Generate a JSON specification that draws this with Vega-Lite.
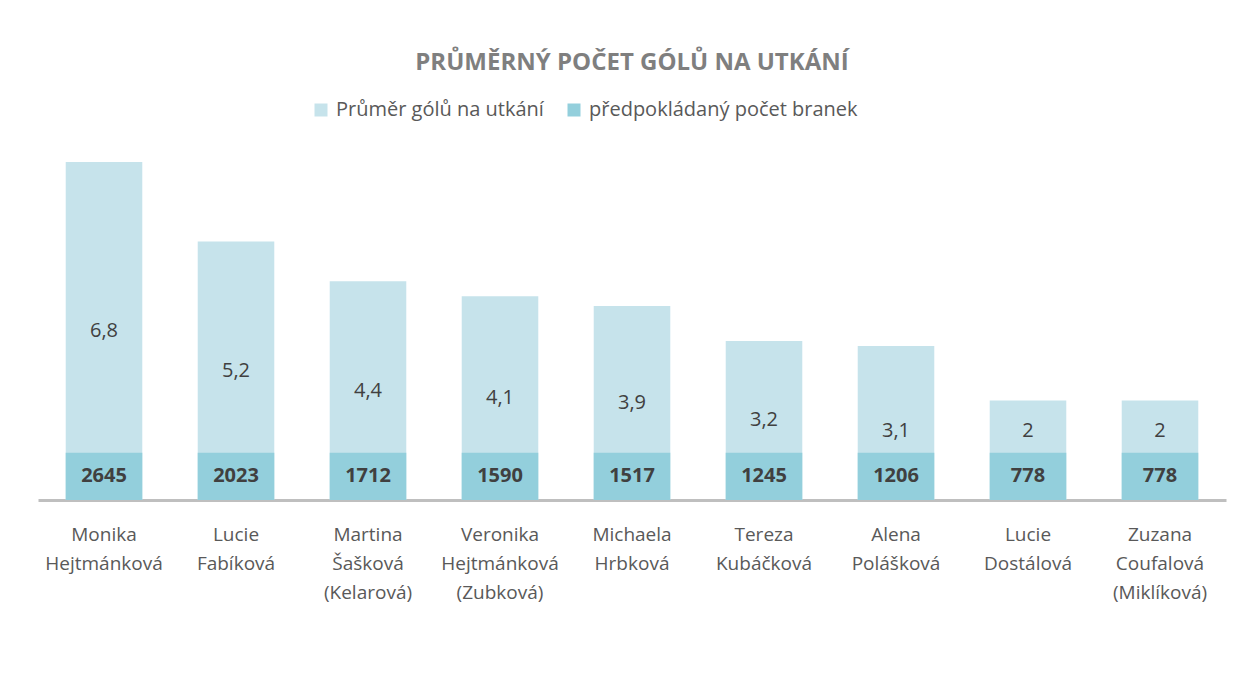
{
  "$schema": "https://vega.github.io/schema/vega-lite/v6.json",
  "width": 1188,
  "height": 348,
  "autosize": {"type": "none"},
  "padding": {"left": 38, "top": 152, "right": 18, "bottom": 175},
  "background": "white",
  "config": {
    "locale": {"number": {"decimal": ",", "thousands": " ", "grouping": [3], "currency": ["", " Kč"]}},
    "view": {"stroke": null},
    "font": "Open Sans"
  },
  "title": {
    "text": "PRŮMĚRNÝ POČET GÓLŮ NA UTKÁNÍ",
    "fontSize": 24,
    "fontWeight": "bold",
    "color": "#7f7f7f",
    "anchor": "middle",
    "offset": 25
  },
  "data": {
    "values": [
      {"name": "Monika Hejtmánková", "avg": 6.8, "goals": 2645},
      {"name": "Lucie Fabíková", "avg": 5.2, "goals": 2023},
      {"name": "Martina Šašková (Kelarová)", "avg": 4.4, "goals": 1712},
      {"name": "Veronika Hejtmánková (Zubková)", "avg": 4.1, "goals": 1590},
      {"name": "Michaela Hrbková", "avg": 3.9, "goals": 1517},
      {"name": "Tereza Kubáčková", "avg": 3.2, "goals": 1245},
      {"name": "Alena Polášková", "avg": 3.1, "goals": 1206},
      {"name": "Lucie Dostálová", "avg": 2, "goals": 778},
      {"name": "Zuzana Coufalová (Miklíková)", "avg": 2, "goals": 778}
    ]
  },
  "encoding": {
    "x": {
      "field": "name",
      "type": "nominal",
      "sort": null,
      "scale": {"paddingInner": 0.42, "paddingOuter": 0.21},
      "axis": {
        "title": null,
        "labelAngle": 0,
        "labelExpr": "split(datum.value, ' ')",
        "labelFontSize": 19,
        "labelColor": "#595959",
        "labelLineHeight": 29,
        "labelPadding": 25,
        "labelBaseline": "top",
        "domainColor": "#bfbfbf",
        "domainWidth": 3,
        "ticks": false,
        "grid": false
      }
    }
  },
  "layer": [
    {
      "mark": {"type": "bar"},
      "encoding": {
        "y": {"field": "avg", "type": "quantitative", "scale": {"domain": [0, 7], "nice": false}, "axis": null},
        "color": {
          "datum": "Průměr gólů na utkání",
          "scale": {"domain": ["Průměr gólů na utkání", "předpokládaný počet branek"], "range": ["#c6e3eb", "#93cfdc"]},
          "legend": {
            "title": null,
            "orient": "none",
            "legendX": 273,
            "legendY": -52,
            "direction": "horizontal",
            "symbolType": "square",
            "symbolSize": 169,
            "symbolStrokeWidth": 0,
            "labelFontSize": 20,
            "labelLimit": 0,
            "labelColor": "#595959",
            "labelOffset": 5,
            "columnPadding": 20
          }
        }
      }
    },
    {
      "mark": {"type": "bar"},
      "encoding": {
        "y": {"datum": 0.95, "type": "quantitative"},
        "color": {"datum": "předpokládaný počet branek"}
      }
    },
    {
      "transform": [{"filter": "datum.avg > 3.15"}],
      "mark": {"type": "text", "fontSize": 20, "color": "#404040"},
      "encoding": {
        "y": {"field": "avg", "type": "quantitative", "stack": "zero", "bandPosition": 0.5},
        "text": {"field": "avg", "type": "quantitative", "format": "~g"}
      }
    },
    {
      "transform": [{"filter": "datum.avg <= 3.15"}],
      "mark": {"type": "text", "fontSize": 20, "color": "#404040"},
      "encoding": {
        "y": {"datum": 1.38, "type": "quantitative"},
        "text": {"field": "avg", "type": "quantitative", "format": "~g"}
      }
    },
    {
      "mark": {"type": "text", "fontSize": 20, "fontWeight": "bold", "color": "#404040"},
      "encoding": {
        "y": {"datum": 0.475, "type": "quantitative"},
        "text": {"field": "goals", "type": "quantitative", "format": "d"}
      }
    }
  ]
}
